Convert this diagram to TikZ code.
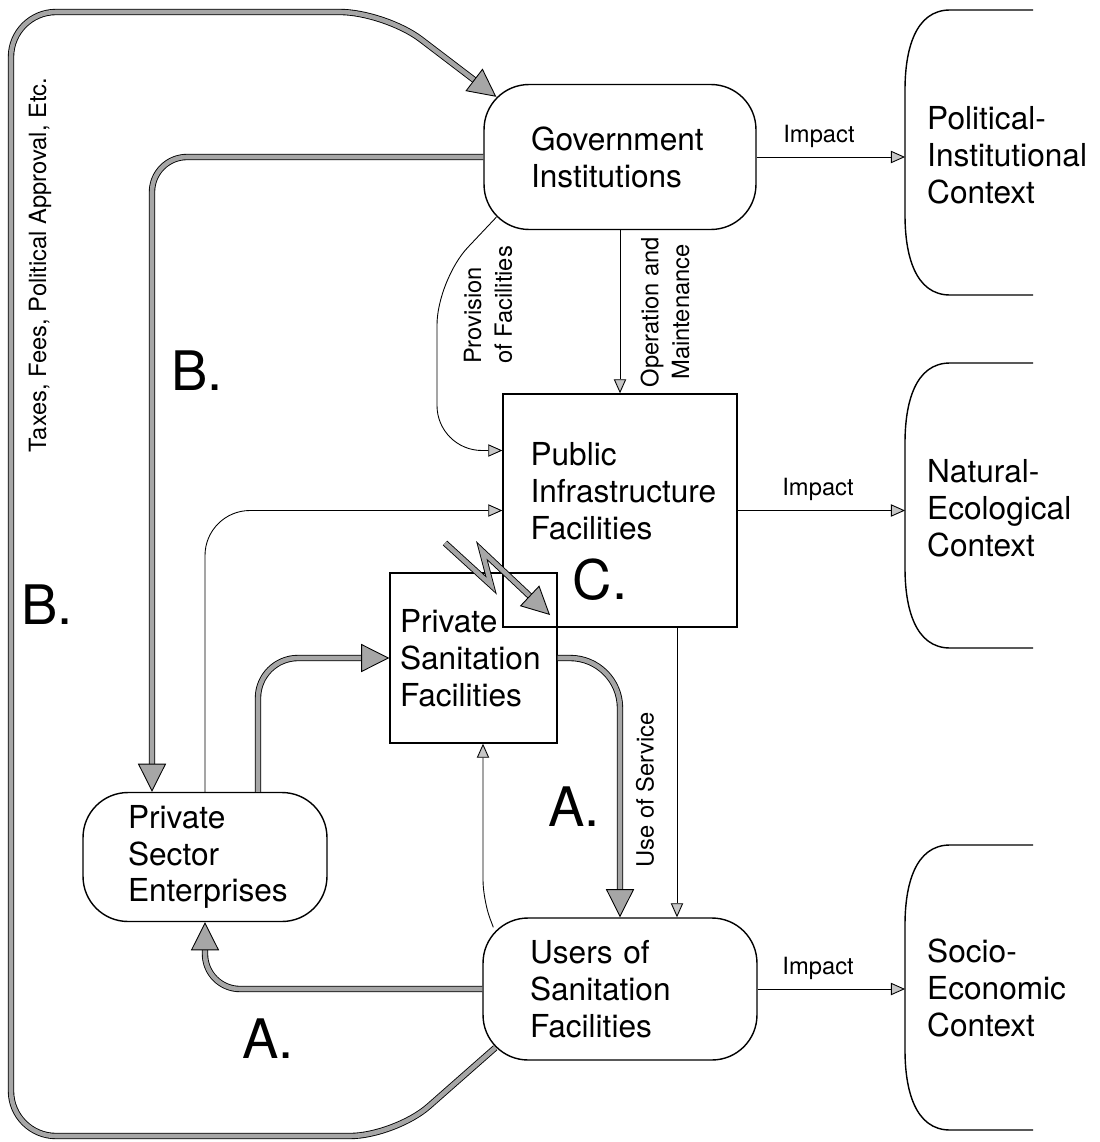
\documentclass[tikz,border=0pt]{standalone}
\usepackage{fontspec}
\setmainfont{TeX Gyre Heros}
\usetikzlibrary{arrows.meta,calc}
\tikzset{inst/.style={draw, line width=0.8pt, rounded corners=0.9cm, align=left, font=\fontsize{18}{21}\selectfont},
fac/.style={draw, line width=0.8pt, align=left, font=\fontsize{18}{21}\selectfont},
ctxtxt/.style={align=left, font=\fontsize{18}{21}\selectfont},
thn/.style={line width=0.5pt, -{Triangle[length=8pt,width=7pt,fill=gray!45]}},
thk/.style={draw=black, line width=0.5pt, double=gray!70, double distance=2.6pt, -{Triangle[length=16pt,width=16pt,fill=gray!70,line width=0.5pt]}},
lbl/.style={font=\fontsize{13.5}{17.5}\selectfont},
bigl/.style={font=\fontsize{31}{36}\selectfont},
ctx/.style={line width=0.8pt}}

\begin{document}
\begin{tikzpicture}[x=0.02cm,y=-0.02cm]
\useasboundingbox (0,0) rectangle (1099,1142);

% actors and facilities
\node[inst, text width=3.56cm, inner xsep=0.94cm, minimum height=2.9cm] (gov) at (620,157) {Government\\Institutions};
\node[inst, text width=3.6cm, inner xsep=0.94cm, minimum height=2.84cm] (usr) at (620,989) {Users of\\Sanitation\\Facilities};
\node[inst, text width=3.08cm, inner xsep=0.9cm, minimum height=2.58cm] (pse) at (205,857) {Private\\Sector\\Enterprises};
\node[fac, minimum width=4.68cm, minimum height=4.66cm] (pub) at (620,510.5) {};
\node[ctxtxt, anchor=north west] (pubtxt) at ($(pub.north west)+(22,43)$) {Public\\Infrastructure\\Facilities};
\node[fac, text width=2.94cm, inner xsep=0.2cm, minimum height=3.4cm] (psf) at (473.5,658) {Private\\Sanitation\\Facilities};

% contexts
\foreach \t in {10,363,845}
  \draw[ctx] (1033,\t) -- (950,\t) .. controls (915,\t) and (905,{\t+40}) .. (905,{\t+80})
    -- (905,{\t+205}) .. controls (905,{\t+245}) and (915,{\t+285}) .. (950,{\t+285}) -- (1033,{\t+285});
\coordinate (polin) at (905,157);
\coordinate (natin) at (905,510.5);
\coordinate (socin) at (905,989);
\node[ctxtxt, anchor=west] (polctx) at (921,155) {Political-\\Institutional\\Context};
\node[ctxtxt, anchor=west] (natctx) at (921,508) {Natural-\\Ecological\\Context};
\node[ctxtxt, anchor=west] (socctx) at (921,988) {Socio-\\Economic\\Context};

\draw[thn] (gov.east) -- node[lbl, above=2pt, pos=0.42] (imp1) {Impact} (polin);
\draw[thn] (pub.east) -- node[lbl, above=2pt, pos=0.48] (imp2) {Impact} (natin);
\draw[thn] (usr.east) -- node[lbl, above=2pt, pos=0.41] (imp3) {Impact} (socin);

% flows
\draw[thn] (gov.south) -- (pub.north);
\draw[thn, rounded corners=0.9cm] ($(gov.south west)+(13,-13)$) -- (437,280) |- ($(pub.west)+(0,-60)$);
\draw[thn, rounded corners=0.9cm] (pse.north) |- (pub.west);
\draw[thn] ([xshift=1.14cm]pub.south) -- ([xshift=1.14cm]usr.north);
\draw[thn, rounded corners=0.4cm] ($(usr.north west)+(11,10)$) -- (483,900) -- ($(psf.south)+(9.5,0)$);

\draw[thk, rounded corners=0.9cm] ($(usr.south west)+(13,-13)$) -- (395,1136) -- (11,1136) -- (11,12) -- (385,12) -- ($(gov.north west)+(13,13)$);
\draw[thk, rounded corners=0.7cm] (gov.west) -| ($(pse.north)+(-53,0)$);
\draw[thk, rounded corners=0.8cm] ($(pse.north)+(53,0)$) |- (psf.west);
\draw[thk, rounded corners=1cm] (psf.east) -| (usr.north);
\draw[thk, rounded corners=0.7cm] (usr.west) -| (pse.south);

% disturbance
\coordinate (lz1) at (445,543);
\coordinate (lz2) at (491,585);
\coordinate (lz3) at (482,551);
\coordinate (lz4) at (550,615);
\draw[thk] (lz1) -- (lz2) -- (lz3) -- (lz4);

% labels
\node[lbl, rotate=90, align=left] (provlbl) at (488,305) {Provision\\of Facilities};
\node[lbl, rotate=90, align=center] (opmlbl) at (665,312) {Operation and\\Maintenance};
\node[lbl, rotate=90] (uselbl) at (645,790) {Use of Service};
\node[lbl, rotate=90] (taxlbl) at (40,265) {Taxes, Fees, Political Approval, Etc.};
\node[bigl] (bup) at (197,371) {B.};
\node[bigl] (bleft) at (47,605) {B.};
\node[bigl] (aup) at (574,807) {A.};
\node[bigl] (alow) at (268,1039) {A.};
\node[bigl] (cpub) at (600,580) {C.};
\end{tikzpicture}
\end{document}
